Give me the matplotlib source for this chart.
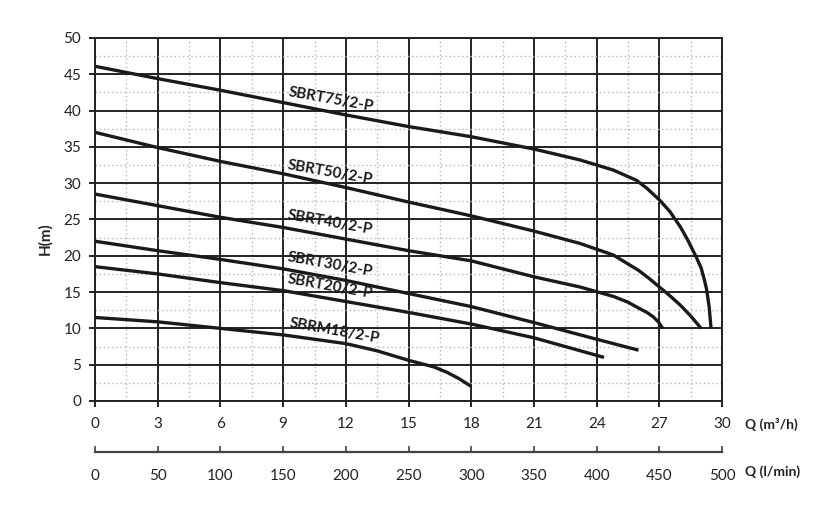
import numpy as np
import matplotlib
matplotlib.use("Agg")
import matplotlib.pyplot as plt
from matplotlib.ticker import MultipleLocator

plt.rcParams['font.family'] = ['Lato', 'DejaVu Sans']

# pump curves, Q in m3/h, H in m
q_75 = [0, 3, 6, 9, 12, 15, 18, 21, 23.2, 24.8, 25.9, 26.4, 27.0, 27.5, 28.0,
        28.35, 28.75, 29.0, 29.15, 29.25, 29.38, 29.47]
h_75 = [46.1, 44.4, 42.8, 41.1, 39.4, 37.8, 36.4, 34.7, 33.2, 31.8, 30.4, 29.3, 27.7, 26.1, 24.0,
        22.2, 19.9, 18.3, 16.7, 15.5, 13.0, 10.0]

q_50 = [0, 3, 6, 9, 12, 15, 18, 21, 23.2, 24.8, 26.0, 26.5, 27.0, 27.5, 28.0, 28.5, 29.0]
h_50 = [37.0, 34.9, 33.0, 31.3, 29.4, 27.4, 25.5, 23.4, 21.7, 20.1, 18.0, 16.9, 15.7, 14.5, 13.2, 11.7, 10.0]

q_40 = [0, 3, 6, 9, 12, 15, 18, 21, 23.2, 24.8, 25.5, 26.0, 26.4, 26.7, 26.95, 27.16]
h_40 = [28.5, 26.9, 25.3, 23.9, 22.3, 20.7, 19.3, 17.1, 15.7, 14.4, 13.6, 12.8, 12.2, 11.6, 10.9, 10.0]

q_30 = [0, 3, 6, 9, 12, 15, 18, 21, 24, 26.0]
h_30 = [22.0, 20.7, 19.5, 18.2, 16.6, 14.8, 13.0, 10.8, 8.5, 7.0]

q_20 = [0, 3, 6, 9, 12, 15, 18, 21, 24.35]
h_20 = [18.5, 17.5, 16.3, 15.2, 13.7, 12.2, 10.6, 8.7, 6.0]

q_m18 = [0, 3, 6, 9, 12, 13.5, 15, 16.2, 16.8, 17.4, 18]
h_m18 = [11.5, 10.9, 10.0, 9.1, 7.9, 6.9, 5.6, 4.7, 4.0, 3.1, 2.0]

names = ['SBRT75/2-P', 'SBRT50/2-P', 'SBRT40/2-P', 'SBRT30/2-P', 'SBRT20/2-P', 'SBRM18/2-P']
label_x = [11.3, 11.25, 11.25, 11.25, 11.25, 11.45]
label_y = [41.5, 31.5, 24.6, 18.75, 15.8, 9.7]

curves = [(q_75, h_75), (q_50, h_50), (q_40, h_40), (q_30, h_30), (q_20, h_20), (q_m18, h_m18)]

fig = plt.figure(figsize=(8.2, 5.05), dpi=100)
ax = fig.add_axes([0.1159, 0.206, 0.7647, 0.7188])

for q, h in curves:
    ax.plot(q, h, color='#1a1a1a', lw=2.4, solid_capstyle='butt',
            solid_joinstyle='round', zorder=3)

for name, x, y in zip(names, label_x, label_y):
    ax.text(x, y, name, fontsize=11, fontweight='bold', color='#1a1a1a',
            rotation=-10, ha='center', va='center', rotation_mode='anchor', zorder=4)

ax.set_xlim(0, 30)
ax.set_ylim(0, 50)
ax.xaxis.set_major_locator(MultipleLocator(3))
ax.xaxis.set_minor_locator(MultipleLocator(1.5))
ax.yaxis.set_major_locator(MultipleLocator(5))
ax.yaxis.set_minor_locator(MultipleLocator(2.5))
ax.grid(True, which='major', color='#222222', lw=1.4)
ax.grid(True, which='minor', color='#b5b5b5', lw=1.0, linestyle=(0, (1, 2)))
ax.set_axisbelow(True)
ax.tick_params(which='major', length=4, width=1.4, color='#222222',
               labelsize=11, pad=6, labelcolor='#222222')
ax.tick_params(axis='x', which='major', pad=7.5)
ax.tick_params(which='minor', length=0)
for s in ax.spines.values():
    s.set_color('#222222')
    s.set_linewidth(1.4)

fig.text(45 / 820, 1 - 239 / 505, 'H(m)', rotation=90, fontsize=11,
         fontweight='bold', ha='center', va='center', color='#222222')
fig.text(745 / 820, 1 - 424 / 505, 'Q (m³/h)', fontsize=10, fontweight='bold',
         ha='left', va='center', color='#222222')

# second scale in l/min
ax2 = fig.add_axes([0.1159, 1 - 452 / 505, 0.7647, 0.001])
ax2.set_xlim(0, 500)
ax2.set_yticks([])
ax2.xaxis.set_major_locator(MultipleLocator(50))
for side in ['top', 'left', 'right']:
    ax2.spines[side].set_visible(False)
ax2.spines['bottom'].set_color('#444444')
ax2.spines['bottom'].set_linewidth(1.6)
ax2.patch.set_visible(False)
ax2.tick_params(axis='x', direction='in', length=4, width=1.2, color='#444444',
                labelsize=11, pad=12, labelcolor='#222222')
fig.text(745 / 820, 1 - 472 / 505, 'Q (l/min)', fontsize=10, fontweight='bold',
         ha='left', va='center', color='#222222')

fig.savefig('out.png', dpi=100)
